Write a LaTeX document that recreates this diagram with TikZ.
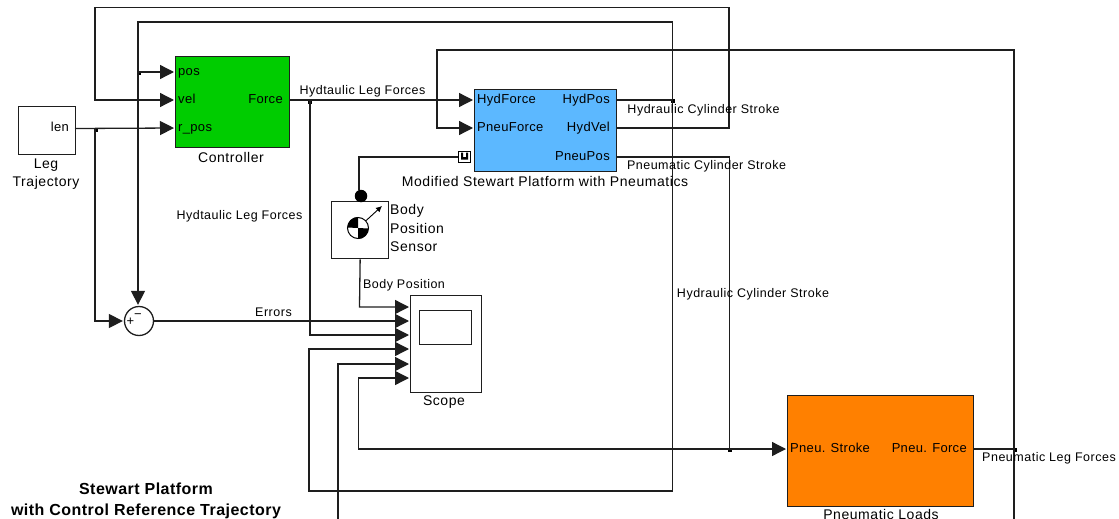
\documentclass[tikz,border=0pt]{standalone}
\usepackage{fontspec}
\setmainfont{Liberation Sans}
\newfontfamily\portfont[LetterSpace=2.5]{Liberation Sans}
\newfontfamily\lblfont[LetterSpace=4]{Liberation Sans}
\newfontfamily\namefont[LetterSpace=4]{Liberation Sans}
\newfontfamily\titlefont[LetterSpace=3]{Liberation Sans}
\usetikzlibrary{positioning,arrows.meta,calc}
\definecolor{ctrlgreen}{RGB}{0,204,0}
\definecolor{platblue}{RGB}{92,184,255}
\definecolor{loadorange}{RGB}{255,128,0}
\definecolor{wirecol}{RGB}{30,30,30}
\tikzset{
  block/.style={draw=wirecol,line width=1.3pt,inner sep=0pt,anchor=north west},
  wire/.style={draw=wirecol,line width=1.3pt},
  sig/.style={wire,-{Triangle[length=14pt,width=14pt]},shorten >=1pt},
  txt/.style={font=\lblfont\fontsize{12.5}{13}\selectfont,inner sep=0pt},
  nametxt/.style={font=\namefont\fontsize{14}{14}\selectfont,inner sep=0pt},
  inport/.style={font=\portfont\fontsize{13}{13}\selectfont,inner sep=0pt,anchor=west,inner xsep=3pt,text height=8pt,text depth=2pt},
  outport/.style={font=\portfont\fontsize{13}{13}\selectfont,inner sep=0pt,anchor=east,inner xsep=6pt,text height=8pt,text depth=2pt},
  junct/.style={fill=black,inner sep=0pt,minimum size=3.6pt}
}
\begin{document}
\begin{tikzpicture}[x=1pt,y=-1pt]
\useasboundingbox (0,0) rectangle (1119,519);
\clip (0,0) rectangle (1119,519);
% blocks
\node[block,minimum width=57pt,minimum height=48pt] (traj) at (18,106) {};
\node[block,fill=ctrlgreen,minimum width=114pt,minimum height=91pt] (ctrl) at (175,56) {};
\node[block,fill=platblue,minimum width=142pt,minimum height=82pt] (plat) at (474,89) {};
\node[block,minimum width=57pt,minimum height=57pt] (sensor) at (331,201) {};
\node[block,minimum width=71pt,minimum height=97pt] (scope) at (410,295) {};
\node[block,minimum width=52pt,minimum height=34pt] (screen) at (419,309.5) {};
\node[block,fill=loadorange,minimum width=186pt,minimum height=111pt] (loads) at (787,395) {};
\node[draw=wirecol,circle,line width=1.3pt,minimum size=29pt,inner sep=0pt] (sum) at (139,321) {};
\node[fill=black,circle,minimum size=12.5pt,inner sep=0pt] (ball) at (361,196) {};
% port labels
\node[outport] (len) at (75,128.5) {len};
\node[inport] (pos) at (175,72) {pos};
\node[inport] (vel) at (175,100) {vel};
\node[inport] (rpos) at (175,128) {r\_pos};
\node[outport] (force) at (289,100) {Force};
\node[inport] (hydforce) at (474,100) {HydForce};
\node[inport] (pneuforce) at (474,128) {PneuForce};
\node[outport] (hydpos) at (616,100) {HydPos};
\node[outport] (hydvel) at (616,128) {HydVel};
\node[outport] (pneupos) at (616,157) {PneuPos};
\node[inport] (stroke) at (787,449) {Pneu. Stroke};
\node[outport] (pforce) at (973,449) {Pneu. Force};
\node[font=\fontsize{13}{13}\selectfont,inner sep=0pt] (plus) at (130.5,322) {+};
\node[font=\fontsize{13}{13}\selectfont,inner sep=0pt] (minus) at (138,316) {−};
% mechanical port on the platform
\node[draw=black,line width=1.3pt,fill=white,minimum size=11.5pt,inner sep=0pt] (conn) at (464.5,157) {};
\fill (461,152.5) rectangle (463,158) (466,152.5) rectangle (468,158) (461,157) rectangle (468,159.5);
% sensor icon
\node[draw=black,circle,line width=1pt,minimum size=21pt,inner sep=0pt] (cg) at (358,228) {};
\fill (cg.center) -- (cg.north) arc (90:180:10.5pt) -- cycle;
\fill (cg.center) -- (cg.south) arc (-90:0:10.5pt) -- cycle;
\coordinate (tiptop) at (382,206);
\draw[-{Latex[length=6pt,width=6pt]},line width=.9pt] (cg) -- (tiptop);
% scope inputs
\foreach \nn/\yy in {1/307,2/321,3/335,4/349,5/364,6/378} {\coordinate (sc\nn) at (410,\yy);}
% junctions
\node[junct] (jpos) at (139,73) {};
\node[junct] (jlen) at (96,130) {};
\node[junct] (jforce) at (310,102) {};
\node[junct] (jhyd) at (673,101) {};
\node[junct] (jstroke) at (730,450) {};
\node[junct] (jpforce) at (1015,450) {};
% feedback from the platform
\draw[sig] (hydvel.east) -- (729,128) -- (729,7.5) -- (95,7.5) -- (95,100) -- (vel.west);
\draw[wire] (hydpos.east) -- (672.5,100) -- (672.5,22) -- (138,22) -- (138,72);
\draw[sig] (138,72) -- (pos.west);
\draw[sig] (138,72) -- (sum.north -| 138,72);
\draw[sig] (672.5,100) -- (672.5,491) -- (309,491) -- (309,349) -- (sc4);
% forces
\draw[sig] (force.east) -- (hydforce.west);
\draw[sig] (310,100) -- (310,335) -- (sc3);
% trajectory
\draw[sig] (len.east) -- (rpos.west);
\draw[sig] (95,128.5) -- (95,321) -- (sum.west);
\draw[sig] (sum.east) -- (sc2);
% body position
\draw[wire] (conn.west) -- (359,157) -- (359,190);
\draw[sig] (sensor.south) -- (359.5,307) -- (sc1);
% pneumatic side
\draw[wire] (pneupos.east) -- (729.5,157) -- (729.5,449);
\draw[sig] (729.5,449) -- (stroke.west);
\draw[sig] (729.5,449) -- (358.5,449) -- (358.5,378) -- (sc6);
\draw[wire] (pforce.east) -- (1014,449);
\draw[sig] (1014,449) -- (1014,50) -- (437,50) -- (437,128) -- (pneuforce.west);
\draw[sig] (1014,449) -- (1014,526) -- (338,526) -- (338,364) -- (sc5);
% names and signal labels
\node[nametxt] (ctrlname) at (231,157.5) {Controller};
\node[nametxt,font=\namefont\fontsize{14}{17.5}\selectfont,align=center] (trajname) at (46,174) {Leg\\Trajectory};
\node[nametxt] (platname) at (545,181.5) {Modified Stewart Platform with Pneumatics};
\node[nametxt,font=\namefont\fontsize{14}{18.5}\selectfont,align=left,anchor=west] (sensname) at (390,228) {Body\\Position\\Sensor};
\node[nametxt] (scopename) at (444,402.5) {Scope};
\node[nametxt] (loadsname) at (881,514.5) {Pneumatic Loads};
\node[txt] (lbforce) at (362.5,91) {Hydtaulic Leg Forces};
\node[txt] (lbforcetwo) at (239.5,216.5) {Hydtaulic Leg Forces};
\node[txt] (lbstroke) at (703.5,110) {Hydraulic Cylinder Stroke};
\node[txt] (lbstroketwo) at (753,294) {Hydraulic Cylinder Stroke};
\node[txt] (lbpneu) at (706.5,166) {Pneumatic Cylinder Stroke};
\node[txt] (lbleg) at (1049,458) {Pneumatic Leg Forces};
\node[txt] (lbbody) at (404,285.5) {Body Position};
\node[txt] (lberrors) at (273.5,312.5) {Errors};
\node[font=\titlefont\fontsize{16}{21}\selectfont\bfseries,inner sep=0pt,align=center] (title) at (146,500.5) {Stewart Platform\\with Control Reference Trajectory};
\end{tikzpicture}
\end{document}
